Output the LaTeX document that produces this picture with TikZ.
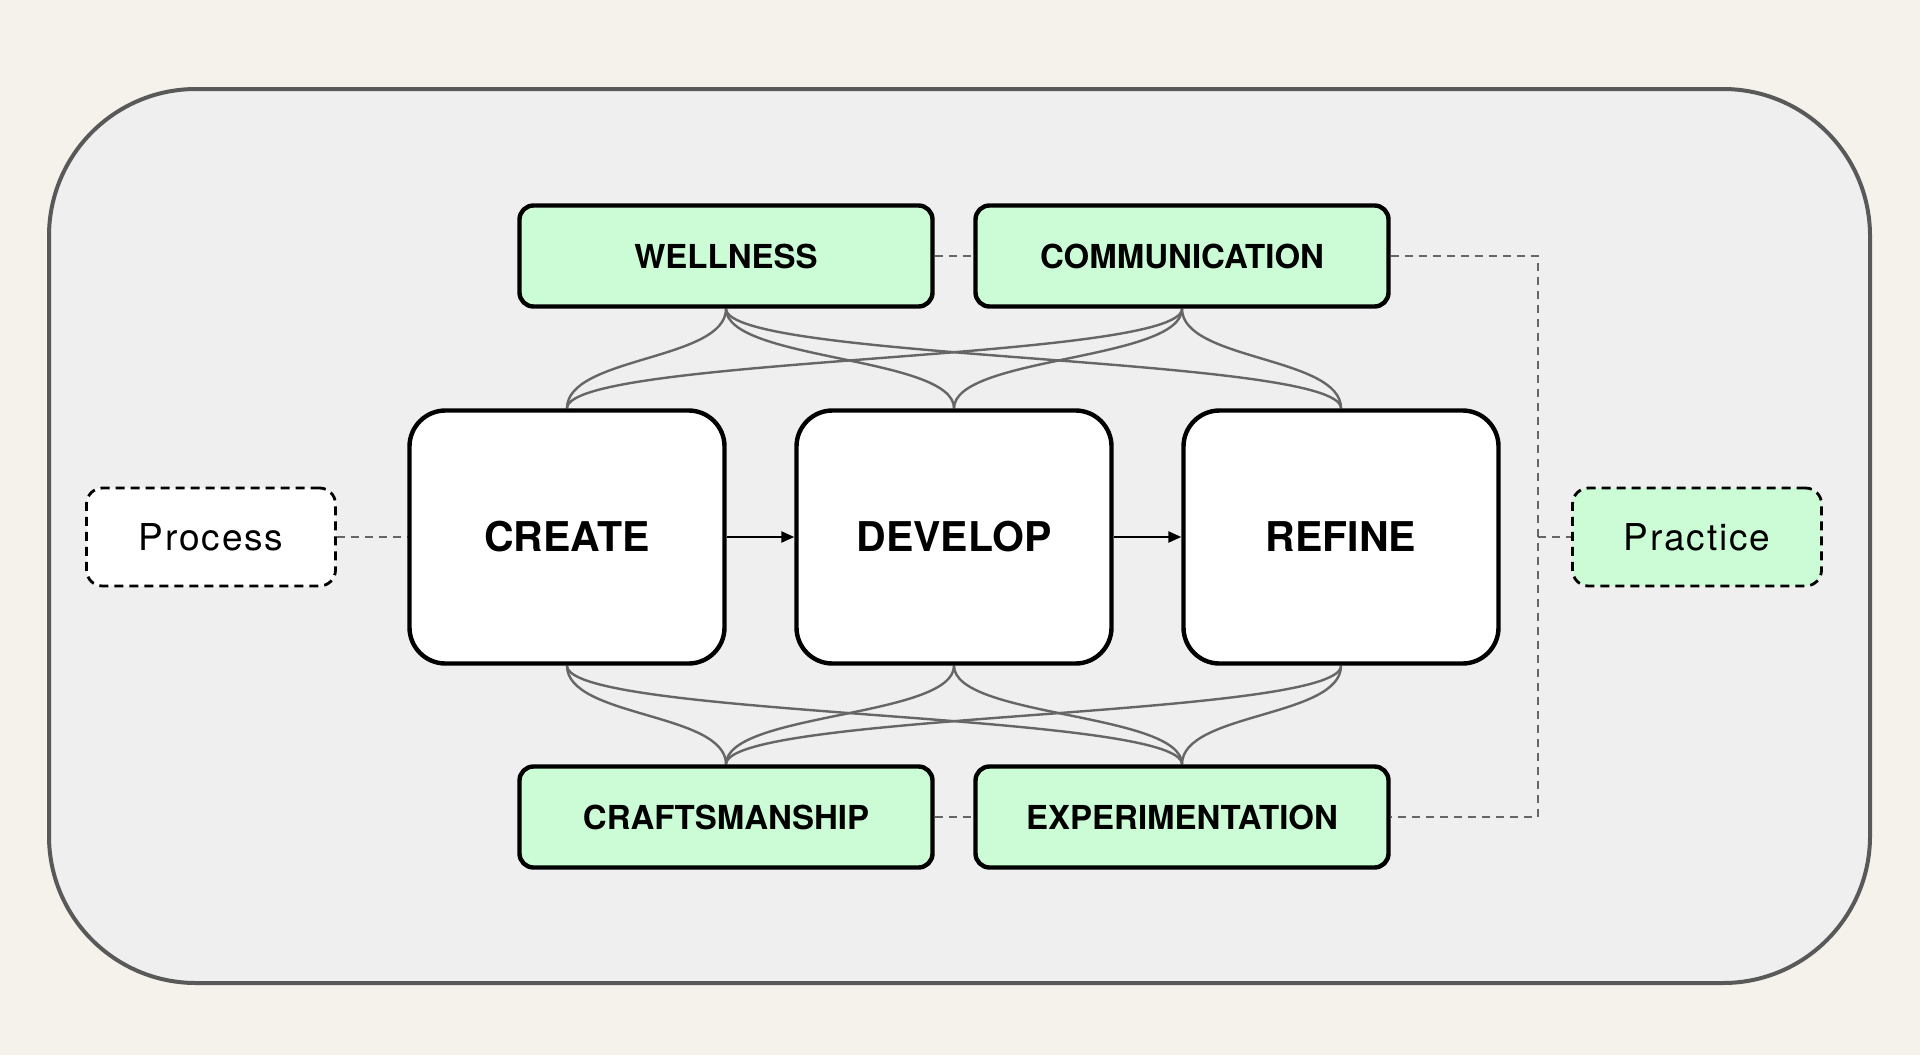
\documentclass[tikz,border=0pt]{standalone}
\usepackage{fontspec}
\setmainfont{TeX Gyre Heros}
\newfontfamily\tagfont[LetterSpace=5]{TeX Gyre Heros}
\usetikzlibrary{arrows.meta,backgrounds}
\definecolor{canvas}{HTML}{F5F2EC}
\definecolor{panel}{HTML}{EFEFEF}
\definecolor{mint}{HTML}{CBFCD6}
\definecolor{rim}{HTML}{595959}
\definecolor{wire}{HTML}{666666}
\begin{document}
\begin{tikzpicture}[x=0.5pt,y=-0.5pt,
    stage/.style={draw=black,line width=2.2pt,fill=white,rounded corners=18pt,
      minimum width=157.5pt,minimum height=126.5pt,
      font=\bfseries\fontsize{20.5}{24}\selectfont},
    value/.style={draw=black,line width=2.2pt,fill=mint,rounded corners=7pt,
      minimum width=206.5pt,minimum height=50.5pt,
      font=\bfseries\fontsize{16.5}{20}\selectfont},
    tag/.style={draw=black,line width=1.4pt,dash pattern=on 4.5pt off 3pt,
      rounded corners=8pt,minimum width=124.5pt,minimum height=49pt,
      font=\tagfont\fontsize{18.5}{22}\selectfont},
    link/.style={draw=wire,line width=1.2pt},
    guide/.style={draw=wire,line width=1.2pt,dash pattern=on 4pt off 3pt},
    flow/.style={draw=black,line width=1.2pt,-{Triangle[length=6.5pt,width=5.5pt]}}]
  \useasboundingbox (0,0) rectangle (1920,1055);
  \def\gap{52}
  \node[stage] (create) at (567,537) {CREATE};
  \node[stage] (develop) at (954,537) {DEVELOP};
  \node[stage] (refine) at (1341,537) {REFINE};
  \node[value] (wellness) at (726,256) {WELLNESS};
  \node[value] (communication) at (1182,256) {COMMUNICATION};
  \node[value] (craftsmanship) at (726,817) {CRAFTSMANSHIP};
  \node[value] (experimentation) at (1182,817) {EXPERIMENTATION};
  \node[tag,fill=white] (process) at (211,537) {Process};
  \node[tag,fill=mint] (practice) at (1697,537) {Practice};
  \coordinate (bend) at (1538,537);
  \draw[flow] (create) -- (develop);
  \draw[flow] (develop) -- (refine);
  \begin{scope}[on background layer]
    \fill[canvas] (0,0) rectangle (1920,1055);
    \draw[rim,fill=panel,line width=2pt,rounded corners=73.5pt] (49,89) rectangle (1870,983);
    \foreach \v in {wellness,communication}
      \foreach \s in {create,develop,refine}
        \draw[link] (\v.south) .. controls +(0,\gap) and +(0,-\gap) .. (\s.north);
    \foreach \v in {craftsmanship,experimentation}
      \foreach \s in {create,develop,refine}
        \draw[link] (\v.north) .. controls +(0,-\gap) and +(0,\gap) .. (\s.south);
    \draw[guide] (process) -- (create);
    \draw[guide] (wellness) -- (communication);
    \draw[guide] (craftsmanship) -- (experimentation);
    \draw[guide] (communication.east) -| (bend) |- (experimentation.east);
    \draw[guide] (bend) -- (practice);
  \end{scope}
\end{tikzpicture}
\end{document}
